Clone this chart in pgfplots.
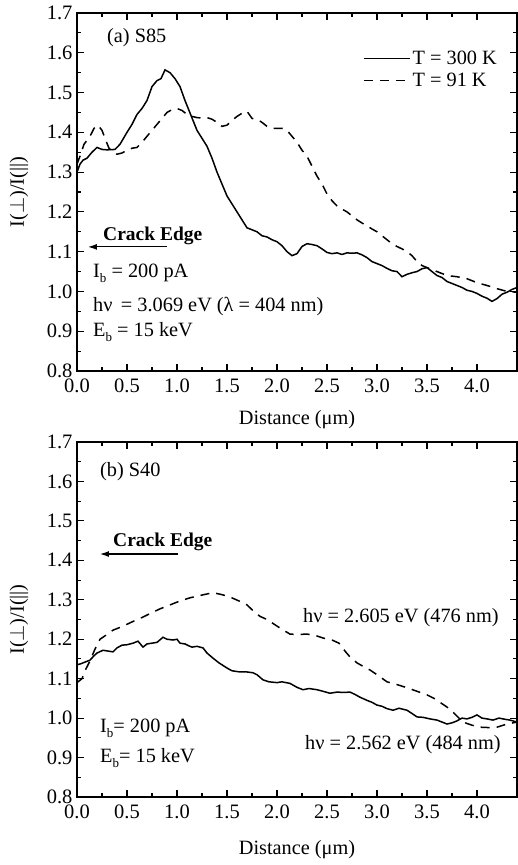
\documentclass[border=0pt]{standalone}
\usepackage{fontspec}
\setmainfont{Liberation Serif}
\usepackage{pgfplots}
\pgfplotsset{compat=1.18}
\usetikzlibrary{arrows.meta}
\newcommand\sub[1]{\raisebox{-0.55ex}{\fontsize{13}{13}\selectfont #1}}
\begin{document}
\begin{tikzpicture}[font=\fontsize{20.3}{23}\selectfont]
\useasboundingbox (-77pt,-68pt) rectangle (440pt,797pt);
\pgfplotsset{
  myaxis/.style={
    scale only axis, width=440pt,
    xmin=0, xmax=4.4, ymin=0.8, ymax=1.7,
    xtick={0,0.5,1,1.5,2,2.5,3,3.5,4},
    ytick={0.8,0.9,1.0,1.1,1.2,1.3,1.4,1.5,1.6,1.7},
    minor x tick num=1, minor y tick num=1,
    tick align=inside, major tick length=7pt, minor tick length=4pt,
    axis line style={line width=1.2pt},
    every tick/.style={line width=1.1pt, black},
    tick label style={font=\fontsize{20.5}{22}\selectfont},
    xticklabel style={yshift=-4.5pt, /pgf/number format/.cd, fixed, fixed zerofill, precision=1, assume math mode=true},
    yticklabel style={xshift=-1pt, /pgf/number format/.cd, fixed, fixed zerofill, precision=1, assume math mode=true},
    xlabel={Distance (μm)},
    ylabel={I($\perp$)/I(||)},
    every axis y label/.style={at={(axis description cs:-0.132,0.5)}, rotate=90, anchor=center},
    legend image code/.code={\draw[#1] (0pt,0pt) -- (46pt,0pt);},
  },
  solidline/.style={black, line width=1.5pt},
  dashline/.style={black, line width=1.5pt, dash pattern=on 9pt off 7pt},
}
% ---------------- top panel ----------------
\begin{axis}[myaxis, at={(0pt,426pt)}, anchor=south west, height=358pt,
  every axis x label/.style={at={(axis description cs:0.5,-0.136)}, anchor=center},
  legend style={draw=none, fill=none, at={(axis description cs:0.643,0.905)}, anchor=north west,
    legend cell align=left, row sep=3pt, font=\fontsize{20.3}{23}\selectfont},
]
\addplot[solidline] coordinates {
(0,1.30) (0.03,1.32) (0.06,1.33) (0.1,1.335) (0.15,1.35) (0.2,1.362) (0.25,1.357) (0.3,1.356)
(0.38,1.357) (0.43,1.37) (0.5,1.40) (0.55,1.42) (0.6,1.445) (0.65,1.46) (0.7,1.48) (0.75,1.515)
(0.8,1.53) (0.84,1.535) (0.88,1.557) (0.93,1.55) (0.98,1.535) (1.03,1.515) (1.08,1.48) (1.12,1.455)
(1.16,1.43) (1.2,1.405) (1.25,1.385) (1.3,1.365) (1.35,1.335) (1.4,1.30) (1.45,1.27) (1.5,1.24)
(1.55,1.22) (1.6,1.2) (1.65,1.18) (1.7,1.16) (1.75,1.155) (1.8,1.15) (1.85,1.14) (1.9,1.137)
(1.95,1.13) (2.0,1.125) (2.05,1.115) (2.1,1.1) (2.15,1.09) (2.2,1.095) (2.25,1.113) (2.3,1.12)
(2.35,1.118) (2.4,1.115) (2.45,1.107) (2.5,1.098) (2.55,1.095) (2.6,1.097) (2.65,1.093) (2.7,1.097)
(2.75,1.096) (2.8,1.097) (2.85,1.092) (2.9,1.085) (2.95,1.075) (3.0,1.07) (3.05,1.065) (3.1,1.058)
(3.15,1.052) (3.2,1.05) (3.25,1.037) (3.3,1.043) (3.35,1.047) (3.4,1.05) (3.45,1.057) (3.5,1.06)
(3.55,1.05) (3.6,1.04) (3.65,1.035) (3.7,1.025) (3.75,1.02) (3.8,1.015) (3.85,1.01) (3.9,1.003)
(3.95,1.0) (4.0,0.995) (4.05,0.988) (4.1,0.983) (4.15,0.975) (4.2,0.982) (4.25,0.993) (4.3,0.998)
(4.35,1.005) (4.4,1.01)
};
\addlegendentry{T = 300 K}
\addplot[dashline] coordinates {
(0,1.32) (0.03,1.34) (0.07,1.37) (0.1,1.38) (0.13,1.39) (0.17,1.41) (0.21,1.418) (0.25,1.405)
(0.28,1.385) (0.32,1.36) (0.36,1.35) (0.4,1.345) (0.45,1.348) (0.5,1.355) (0.55,1.36) (0.6,1.362)
(0.65,1.375) (0.7,1.39) (0.75,1.405) (0.8,1.42) (0.85,1.435) (0.9,1.45) (0.95,1.457) (1.0,1.46)
(1.05,1.455) (1.1,1.445) (1.15,1.44) (1.2,1.437) (1.25,1.436) (1.3,1.437) (1.35,1.433) (1.4,1.425)
(1.45,1.415) (1.5,1.418) (1.55,1.43) (1.6,1.44) (1.65,1.448) (1.7,1.453) (1.75,1.435) (1.8,1.433)
(1.85,1.425) (1.9,1.415) (1.95,1.41) (2.0,1.41) (2.05,1.41) (2.1,1.405) (2.15,1.39) (2.2,1.375)
(2.25,1.355) (2.3,1.34) (2.35,1.315) (2.4,1.29) (2.45,1.27) (2.5,1.245) (2.55,1.228) (2.6,1.215)
(2.65,1.207) (2.7,1.2) (2.75,1.19) (2.8,1.18) (2.85,1.172) (2.9,1.165) (2.95,1.157) (3.0,1.15)
(3.05,1.14) (3.1,1.13) (3.15,1.12) (3.2,1.113) (3.25,1.107) (3.3,1.1) (3.35,1.09) (3.4,1.075)
(3.45,1.065) (3.5,1.06) (3.55,1.055) (3.6,1.05) (3.65,1.045) (3.7,1.04) (3.8,1.037) (3.9,1.032)
(4.0,1.022) (4.1,1.015) (4.2,1.007) (4.3,1.0) (4.4,0.998)
};
\addlegendentry{T = 91 K}
\node[anchor=west, inner sep=0pt] at (axis cs:0.30,1.637) {(a) S85};
\node[anchor=west, inner sep=0pt, font=\bfseries\fontsize{19.5}{22}\selectfont] at (axis cs:0.26,1.139) {Crack Edge};
\draw[line width=1.1pt, -{Latex[length=9pt,width=6pt]}] (axis cs:0.9,1.112) -- (axis cs:0.11,1.112);
\node[anchor=west, inner sep=0pt] at (axis cs:0.16,1.046) {I\sub{b} = 200 pA};
\node[anchor=west, inner sep=0pt] at (axis cs:0.16,0.963) {hν\, = 3.069 eV (λ = 404 nm)};
\node[anchor=west, inner sep=0pt] at (axis cs:0.16,0.898) {E\sub{b} = 15 keV};
\end{axis}
% ---------------- bottom panel ----------------
\begin{axis}[myaxis, at={(0pt,0pt)}, anchor=south west, height=355pt,
  every axis x label/.style={at={(axis description cs:0.5,-0.147)}, anchor=center},
]
\addplot[solidline] coordinates {
(0,1.135) (0.04,1.138) (0.08,1.142) (0.13,1.147) (0.17,1.158) (0.2,1.165) (0.26,1.172) (0.31,1.17)
(0.36,1.168) (0.4,1.178) (0.45,1.185) (0.5,1.186) (0.56,1.19) (0.61,1.195) (0.66,1.18) (0.7,1.188)
(0.75,1.19) (0.8,1.192) (0.86,1.205) (0.9,1.2) (0.96,1.198) (1.0,1.2) (1.03,1.19) (1.08,1.188)
(1.12,1.183) (1.15,1.18) (1.2,1.182) (1.26,1.178) (1.3,1.165) (1.36,1.152) (1.42,1.14) (1.5,1.127)
(1.55,1.12) (1.63,1.117) (1.7,1.117) (1.76,1.115) (1.8,1.11) (1.86,1.097) (1.92,1.092) (2.0,1.09)
(2.05,1.092) (2.13,1.088) (2.2,1.078) (2.26,1.072) (2.32,1.075) (2.4,1.072) (2.46,1.068) (2.53,1.063)
(2.6,1.066) (2.67,1.065) (2.73,1.066) (2.78,1.06) (2.83,1.053) (2.9,1.045) (2.95,1.04) (3.0,1.033)
(3.05,1.03) (3.1,1.024) (3.16,1.02) (3.22,1.025) (3.3,1.02) (3.36,1.01) (3.4,1.003) (3.46,1.002)
(3.53,0.998) (3.6,0.995) (3.65,0.99) (3.7,0.985) (3.75,0.988) (3.8,0.993) (3.85,1.0) (3.9,0.998)
(3.95,1.002) (4.0,1.008) (4.05,1.0) (4.1,0.998) (4.16,0.995) (4.22,1.0) (4.28,0.997) (4.33,0.995)
(4.4,0.99)
};
\addplot[dashline] coordinates {
(0,1.09) (0.05,1.10) (0.09,1.125) (0.13,1.145) (0.18,1.175) (0.23,1.2) (0.3,1.212) (0.36,1.223)
(0.45,1.232) (0.56,1.245) (0.65,1.255) (0.73,1.265) (0.83,1.277) (0.93,1.287) (1.03,1.297) (1.13,1.305)
(1.25,1.312) (1.36,1.318) (1.45,1.313) (1.53,1.307) (1.62,1.297) (1.7,1.287) (1.77,1.27) (1.83,1.258)
(1.9,1.25) (1.96,1.24) (2.05,1.225) (2.13,1.213) (2.2,1.212) (2.3,1.213) (2.38,1.21) (2.46,1.203)
(2.55,1.198) (2.62,1.19) (2.68,1.17) (2.73,1.155) (2.8,1.14) (2.87,1.13) (2.93,1.122) (3.0,1.11)
(3.1,1.092) (3.2,1.085) (3.3,1.077) (3.4,1.068) (3.5,1.059) (3.57,1.05) (3.63,1.04) (3.7,1.028)
(3.76,1.015) (3.82,1.0) (3.86,0.99) (3.95,0.982) (4.03,0.977) (4.12,0.976) (4.2,0.977) (4.3,0.985)
(4.4,0.99)
};
\node[anchor=west, inner sep=0pt] at (axis cs:0.23,1.624) {(b) S40};
\node[anchor=west, inner sep=0pt, font=\bfseries\fontsize{19.5}{22}\selectfont] at (axis cs:0.36,1.446) {Crack Edge};
\draw[line width=1.1pt, -{Latex[length=9pt,width=6pt]}] (axis cs:1.01,1.416) -- (axis cs:0.23,1.416);
\node[anchor=west, inner sep=0pt] at (axis cs:0.23,0.975) {I\sub{b}= 200 pA};
\node[anchor=west, inner sep=0pt] at (axis cs:0.23,0.899) {E\sub{b}= 15 keV};
\node[anchor=west, inner sep=0pt] at (axis cs:2.26,1.256) {hν = 2.605 eV (476 nm)};
\node[anchor=west, inner sep=0pt] at (axis cs:2.28,0.934) {hν = 2.562 eV (484 nm)};
\end{axis}
\end{tikzpicture}
\end{document}
